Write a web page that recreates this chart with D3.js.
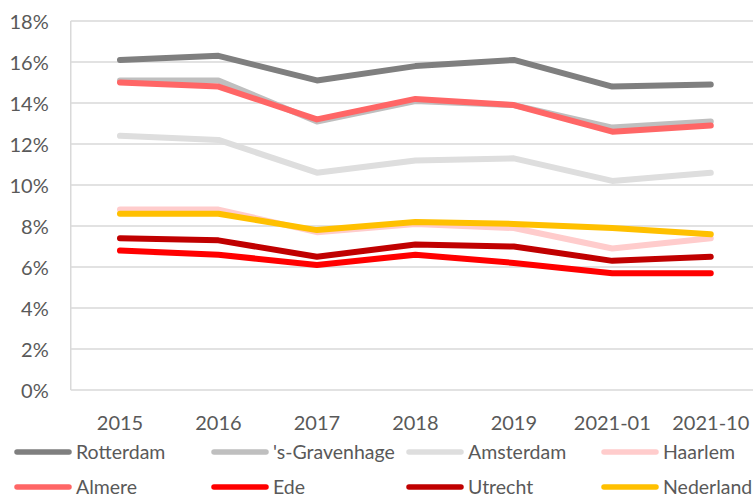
<!DOCTYPE html>
<html><head><meta charset="utf-8">
<script src="https://cdn.jsdelivr.net/npm/d3@7"></script>
<style>body{margin:0;background:#fff}svg{display:block}text{font-family:Lato,"Open Sans",sans-serif}</style>
</head><body><svg id="c" width="753" height="499"></svg>
<script>
const categories = ["2015","2016","2017","2018","2019","2021-01","2021-10"];
const yTicks = [0,2,4,6,8,10,12,14,16,18];
const seriesNames = ["Rotterdam","'s-Gravenhage","Amsterdam","Haarlem","Almere","Ede","Utrecht","Nederland"];
const rotterdam   = [16.1,16.3,15.1,15.8,16.1,14.8,14.9];
const gravenhage  = [15.1,15.1,13.1,14.1,13.9,12.8,13.1];
const amsterdam   = [12.4,12.2,10.6,11.2,11.3,10.2,10.6];
const haarlem     = [8.8,8.8,7.7,8.1,7.9,6.9,7.4];
const almere      = [15.0,14.8,13.2,14.2,13.9,12.6,12.9];
const ede         = [6.8,6.6,6.1,6.6,6.2,5.7,5.7];
const utrecht     = [7.4,7.3,6.5,7.1,7.0,6.3,6.5];
const nederland   = [8.6,8.6,7.8,8.2,8.1,7.9,7.6];
const colors = ["#7f7f7f","#bfbfbf","#dedede","#ffcccc","#ff6666","#ff0000","#c00000","#ffc000"];
const seriesValues = [rotterdam,gravenhage,amsterdam,haarlem,almere,ede,utrecht,nederland];

(function(){
const svg = d3.select("#c");
const pL = 70.75, pR = 760, pT = 21, pB = 390;
const x = d3.scaleBand().domain(categories).range([pL, pR]).padding(0);
const xc = c => x(c) + x.bandwidth()/2;
const y = d3.scaleLinear().domain([0,18]).range([pB, pT]);

svg.append("g").selectAll("line").data(yTicks).join("line")
  .attr("x1", pL).attr("x2", pR)
  .attr("y1", d => y(d)).attr("y2", d => y(d))
  .attr("stroke", "#d9d9d9").attr("stroke-width", 1.5);
svg.append("line").attr("x1", pL).attr("x2", pL).attr("y1", pT).attr("y2", pB)
  .attr("stroke", "#d9d9d9").attr("stroke-width", 1.5);

const ya = svg.append("g").attr("transform", `translate(${pL-22},0)`)
  .call(d3.axisLeft(y).tickValues(yTicks).tickFormat(d => d + "%").tickSize(0).tickPadding(0));
ya.select(".domain").remove();
ya.selectAll("text").attr("fill","#595959").style("font-size","20px").attr("dy","0.36em");

const xa = svg.append("g").attr("transform", `translate(0,${pB})`)
  .call(d3.axisBottom(x).tickSize(0));
xa.select(".domain").remove();
xa.selectAll("text").attr("fill","#595959").style("font-size","20px").attr("y", 40).attr("dy", 0);

const line = d3.line().x((d,i) => xc(categories[i])).y(d => y(d));
svg.append("g").selectAll("path").data(seriesValues).join("path")
  .attr("d", d => line(d)).attr("fill","none")
  .attr("stroke", (d,i) => colors[i]).attr("stroke-width", 6)
  .attr("stroke-linecap","round").attr("stroke-linejoin","round");

const colX = [15,212,407,602], rowY = [452,487];
const lg = svg.append("g").selectAll("g").data(seriesNames).join("g")
  .attr("transform", (d,i) => `translate(${colX[i%4]},${rowY[Math.floor(i/4)]})`);
lg.append("line").attr("x1",2).attr("x2",54).attr("y1",0).attr("y2",0)
  .attr("stroke",(d,i)=>colors[i]).attr("stroke-width",5.5).attr("stroke-linecap","round");
lg.append("text").attr("x",61).attr("y",0).attr("dy","0.36em").text(d=>d)
  .attr("fill","#595959").style("font-size","19.5px");
})();
</script></body></html>
